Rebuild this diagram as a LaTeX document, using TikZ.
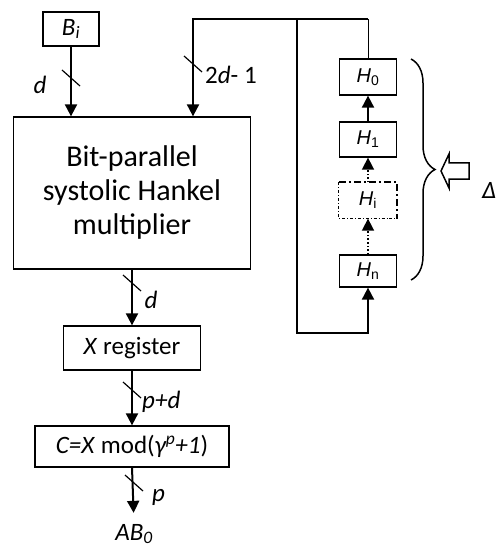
\documentclass[tikz,border=0pt]{standalone}
\usepackage{fontspec}
\setmainfont{Carlito}
\newfontfamily\hfont{Liberation Sans}
\usetikzlibrary{arrows.meta,decorations.pathreplacing}
\definecolor{ink}{HTML}{000000}
\begin{document}
\begin{tikzpicture}[x=1pt,y=-1pt,
    box/.style={draw=ink,line width=1.3pt,inner sep=0pt,align=center},
    hbox/.style={box,minimum width=57pt,font=\hfont\fontsize{20}{22}\selectfont},
    bus/.style={draw=ink,line width=2pt,-{Triangle[width=12pt,length=12pt]}},
    lbl/.style={inner sep=0pt,font=\fontsize{25}{28}\selectfont}]
  \useasboundingbox (0,0) rectangle (495,548);
  \node[box,minimum width=56pt,minimum height=34pt,font=\fontsize{25}{27}\selectfont] (Bi) at (71,29) {\textit{B\textsubscript{i}}};
  \node[box,minimum width=237pt,minimum height=152pt,font=\fontsize{30}{34}\selectfont] (mult) at (132,193)
    {Bit-parallel\\systolic Hankel\\multiplier};
  \node[box,minimum width=137pt,minimum height=44pt,font=\fontsize{25}{28}\selectfont] (xreg) at (132,348) {\textit{X} register};
  \node[box,minimum width=194pt,minimum height=41pt,font=\fontsize{25}{28}\selectfont] (cmod) at (132,446.5)
    {\textit{C=X} mod(\textit{γ\textsuperscript{p}+1})};
  \node[lbl] (ab) at (134,534) {\textit{AB\textsubscript{0}}};
  \foreach \n/\y/\h in {0/77/36, 1/139.5/35, n/271/32}{
    \node[hbox,minimum height=\h pt] (H\n) at (368,\y) {\textit{H}\textsubscript{\n}};
  }
  \node[hbox,draw=none,minimum height=35pt] (Hi) at (368,200.5) {\textit{H}\textsubscript{i}};
  \draw[line width=0.9pt,dash dot] (Hi.north west) -- (Hi.south west) -- (Hi.south east);
  \draw[line width=2.2pt,dash pattern=on 7pt off 3pt on 2pt off 3pt] (Hi.north west) -- (Hi.north east) -- (Hi.south east);
  \coordinate (tl) at (193,19);
  \coordinate (tj) at (297,19);
  \coordinate (bj) at (297,333);
  \draw[bus] (Bi.south) -- (Bi.south |- mult.north);
  \draw[bus] (mult.south) -- (xreg.north);
  \draw[bus] (xreg.south) -- (cmod.north);
  \draw[bus,shorten >=11pt] (cmod.south) -- (ab.north);
  \draw[line width=1pt] (H0.north) -- (H0.north |- tj);
  \draw[bus] (H0.north |- tj) -- (tl) -- (tl |- mult.north);
  \draw[bus] (tj) -- (bj) -| (Hn.south);
  \draw[bus] (H1.north) -- (H0.south);
  \draw[bus,line width=1.6pt,dotted] (Hi.north) -- (H1.south);
  \draw[bus,line width=1.6pt,dotted] (Hn.north) -- (Hi.south);
  \foreach \p in {(71,78),(193,64),(132,283),(132,390),(134,483)}
    \draw[line width=1.2pt] \p ++(-9,-8) -- ++(18,16);
  \node[lbl] (ld) at (40,85) {\textit{d}};
  \node[lbl,anchor=west] (l2d) at (205,75) {2\textit{d}- 1};
  \node[lbl] (ld2) at (151,300) {\textit{d}};
  \node[lbl,anchor=west] (lpd) at (142,402) {\textit{p+d}};
  \node[lbl,anchor=west] (lp) at (152,497) {\textit{p}};
  \draw[line width=1.5pt,decorate,decoration={brace,amplitude=24pt}] (411,59) -- (411,280);
  \draw[line width=1.5pt] (469,163) -- (449,163) -- (449,154) -- (441,171) -- (449,188) -- (449,179) -- (469,179) -- cycle;
  \node[lbl,anchor=west] (delta) at (482,190) {\textit{Δ}};
\end{tikzpicture}
\end{document}
